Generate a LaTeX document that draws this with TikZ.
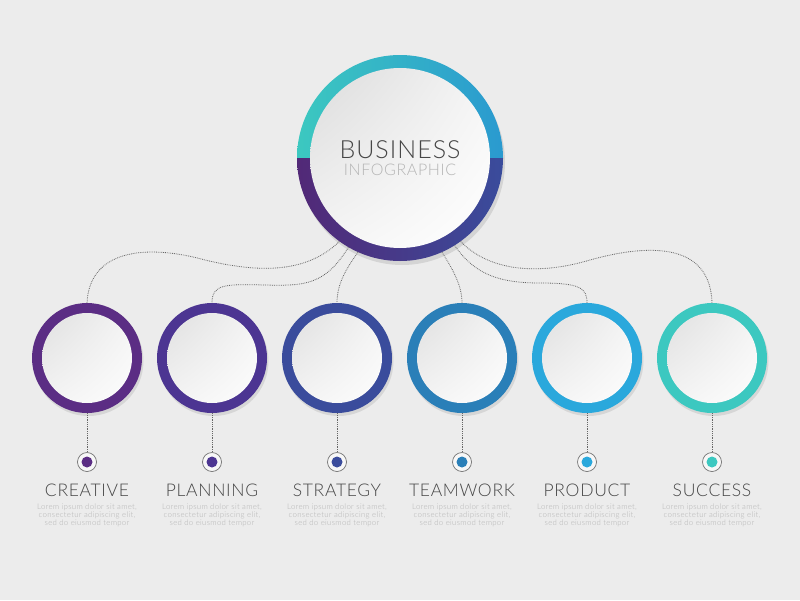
\documentclass[tikz,border=0pt]{standalone}
\usepackage{fontspec}
\setmainfont{Lato}
\newfontfamily\thinfont[LetterSpace=4]{Lato Light}
\usepackage{tikz}
\usetikzlibrary{shapes, arrows.meta, positioning, shadows, shadings}
\definecolor{bg}{RGB}{236,236,236}
\definecolor{cPurple}{RGB}{91,45,132}
\definecolor{cViolet}{RGB}{76,53,146}
\definecolor{cIndigo}{RGB}{58,76,156}
\definecolor{cSteel}{RGB}{42,127,184}
\definecolor{cSky}{RGB}{42,168,220}
\definecolor{cTeal}{RGB}{60,200,192}
\definecolor{txtDark}{RGB}{70,70,70}
\definecolor{txtLight}{RGB}{180,180,180}

\begin{document}
\begin{tikzpicture}
  [
    x=1pt, y=-1pt,
    Big/.style={circle, inner sep=0pt, minimum size=206pt,
      drop shadow={opacity=0.22, shadow xshift=2pt, shadow yshift=-4pt},
      path picture={
        \shade[left color=cTeal, right color=cSky!65!cSteel]
          (path picture bounding box.north west) rectangle (path picture bounding box.east);
        \shade[left color=cPurple!90!black, right color=cIndigo]
          (path picture bounding box.west) rectangle (path picture bounding box.south east);
        \shade[upper left=black!14, lower right=white, upper right=white!96!black, lower left=white!96!black]
          (path picture bounding box.center) circle (90pt);
      }},
    Ring/.style={circle, inner sep=0pt, minimum size=110pt, fill=#1,
      drop shadow={opacity=0.2, shadow xshift=1.5pt, shadow yshift=-3pt},
      path picture={
        \shade[upper left=black!14, lower right=white, upper right=white!96!black, lower left=white!96!black]
          (path picture bounding box.center) circle (45pt);
      }},
    Dot/.style={circle, inner sep=0pt, minimum size=19pt, draw=black!55, line width=0.7pt, fill=white!97!black,
      path picture={\fill[#1] (path picture bounding box.center) circle (5.5pt);}},
    Link/.style={densely dotted, draw=black!60, line width=0.8pt},
    Label/.style={font=\thinfont\fontsize{17.5}{19}\selectfont, text=txtDark, inner sep=0pt},
    Lorem/.style={font=\thinfont\fontsize{7.8}{7.8}\selectfont, text=txtLight, align=center, inner sep=0pt}
  ]
  \fill[bg] (0,0) rectangle (800,600);
  % Nodes
  \node[Big] (main) at (400,158) {};
  \node[font=\thinfont\fontsize{25}{26}\selectfont, text=txtDark, inner sep=0pt] (title) at (400,150) {BUSINESS};
  \node[font=\thinfont\fontsize{16}{17}\selectfont, text=txtLight, inner sep=0pt] (subtitle) at (400,170) {INFOGRAPHIC};

  \node[Ring=cPurple] (c1) at (87,358) {};
  \node[Ring=cViolet] (c2) at (212,358) {};
  \node[Ring=cIndigo] (c3) at (337,358) {};
  \node[Ring=cSteel] (c4) at (462,358) {};
  \node[Ring=cSky] (c5) at (587,358) {};
  \node[Ring=cTeal] (c6) at (712,358) {};

  \node[Dot=cPurple] (d1) at (87,462) {};
  \node[Dot=cViolet] (d2) at (212,462) {};
  \node[Dot=cIndigo] (d3) at (337,462) {};
  \node[Dot=cSteel] (d4) at (462,462) {};
  \node[Dot=cSky] (d5) at (587,462) {};
  \node[Dot=cTeal] (d6) at (712,462) {};

  \node[Label] (l1) at (87,490) {CREATIVE};
  \node[Label] (l2) at (212,490) {PLANNING};
  \node[Label] (l3) at (337,490) {STRATEGY};
  \node[Label] (l4) at (462,490) {TEAMWORK};
  \node[Label] (l5) at (587,490) {PRODUCT};
  \node[Label] (l6) at (712,490) {SUCCESS};

  \node[Lorem, below=7pt of l1] (t1) {Lorem ipsum dolor sit amet,\\consectetur adipiscing elit,\\sed do eiusmod tempor};
  \node[Lorem, below=7pt of l2] (t2) {Lorem ipsum dolor sit amet,\\consectetur adipiscing elit,\\sed do eiusmod tempor};
  \node[Lorem, below=7pt of l3] (t3) {Lorem ipsum dolor sit amet,\\consectetur adipiscing elit,\\sed do eiusmod tempor};
  \node[Lorem, below=7pt of l4] (t4) {Lorem ipsum dolor sit amet,\\consectetur adipiscing elit,\\sed do eiusmod tempor};
  \node[Lorem, below=7pt of l5] (t5) {Lorem ipsum dolor sit amet,\\consectetur adipiscing elit,\\sed do eiusmod tempor};
  \node[Lorem, below=7pt of l6] (t6) {Lorem ipsum dolor sit amet,\\consectetur adipiscing elit,\\sed do eiusmod tempor};
  % Lines
  \path [Link] (main.234) .. controls (305,275) and (255,272) .. (205,260)
    .. controls (155,246) and (90,245) .. (c1.north);
  \path [Link] (main.240) .. controls (325,285) and (305,286) .. (265,285)
    .. controls (225,284) and (212,284) .. (c2.north);
  \path [Link] (main.246) .. controls (345,270) and (337,285) .. (c3.north);
  \path [Link] (main.294) .. controls (452,268) and (462,285) .. (c4.north);
  \path [Link] (main.302) .. controls (475,275) and (500,283) .. (540,283)
    .. controls (580,283) and (587,288) .. (c5.north);
  \path [Link] (main.306) .. controls (490,272) and (540,275) .. (590,260)
    .. controls (640,246) and (710,238) .. (c6.north);
  \path [Link] (c1.south) -- (d1.north);
  \path [Link] (c2.south) -- (d2.north);
  \path [Link] (c3.south) -- (d3.north);
  \path [Link] (c4.south) -- (d4.north);
  \path [Link] (c5.south) -- (d5.north);
  \path [Link] (c6.south) -- (d6.north);
\end{tikzpicture}
\end{document}
